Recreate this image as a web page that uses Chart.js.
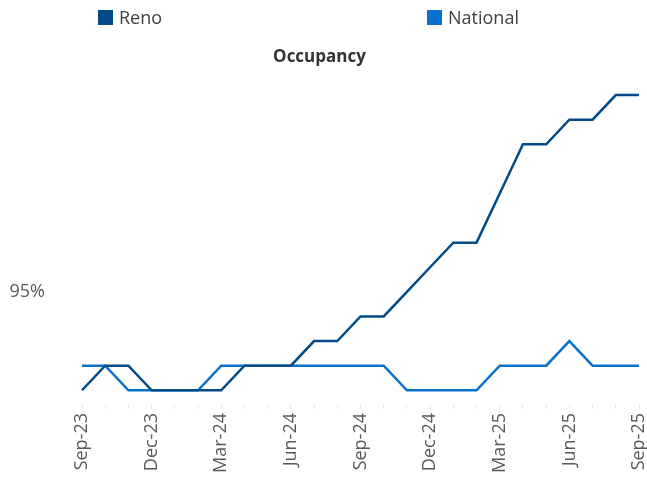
<!DOCTYPE html>
<html>
<head>
<meta charset="utf-8">
<script src="https://cdn.jsdelivr.net/npm/chart.js@4.4.1/dist/chart.umd.min.js"></script>
<style>
  html, body { margin: 0; padding: 0; background: #ffffff; }
  #wrap { position: relative; width: 647px; height: 477px; }
  .legend { position: absolute; top: 5px; font-family: "Open Sans", sans-serif; font-size: 18px; color: #404040; line-height: 24px; }
  .legend span.box { display: inline-block; width: 15px; height: 15px; vertical-align: -1px; margin-right: 6px; }
</style>
</head>
<body>
<div id="wrap">
  <canvas id="occChart" width="647" height="477"></canvas>
  <div class="legend" style="left:98px"><span class="box" style="background:#024b87"></span>Reno</div>
  <div class="legend" style="left:427px"><span class="box" style="background:#0a72cc"></span>National</div>
</div>
<script>
// monthly occupancy, Sep-23 .. Sep-25
const months = ['Sep-23', 'Oct-23', 'Nov-23', 'Dec-23', 'Jan-24', 'Feb-24', 'Mar-24', 'Apr-24', 'May-24',
    'Jun-24', 'Jul-24', 'Aug-24', 'Sep-24', 'Oct-24', 'Nov-24', 'Dec-24', 'Jan-25', 'Feb-25', 'Mar-25',
    'Apr-25', 'May-25', 'Jun-25', 'Jul-25', 'Aug-25', 'Sep-25'];

const renoValues = [94.6, 94.7, 94.7, 94.6, 94.6, 94.6, 94.6, 94.7, 94.7, 94.7, 94.8, 94.8, 94.9, 94.9,
    95.0, 95.1, 95.2, 95.2, 95.4, 95.6, 95.6, 95.7, 95.7, 95.8, 95.8];

const nationalValues = [94.7, 94.7, 94.6, 94.6, 94.6, 94.6, 94.7, 94.7, 94.7, 94.7, 94.7, 94.7, 94.7, 94.7,
    94.6, 94.6, 94.6, 94.6, 94.7, 94.7, 94.7, 94.8, 94.7, 94.7, 94.7];

const yTicks = [95];

const gray = '#595959';
const font = "'Open Sans', sans-serif";

const ctx = document.getElementById('occChart').getContext('2d');
new Chart(ctx, {
    type: 'line',
    data: {
        labels: months,
        datasets: [{
            label: 'Reno',
            data: renoValues,
            borderColor: '#024b87',
            backgroundColor: '#024b87',
            borderWidth: 2.5,
            pointRadius: 0,
            tension: 0
        }, {
            label: 'National',
            data: nationalValues,
            borderColor: '#0a72cc',
            backgroundColor: '#0a72cc',
            borderWidth: 2.5,
            pointRadius: 0,
            tension: 0
        }]
    },
    options: {
        responsive: false,
        animation: false,
        layout: { padding: { left: 0, right: 8, top: 0, bottom: 0 } },
        plugins: {
            legend: { display: false },
            tooltip: { enabled: false },
            title: {
                display: true,
                text: 'Occupancy',
                color: '#333333',
                font: { family: font, size: 17, weight: 'bold' },
                padding: { top: 47, bottom: 7 }
            }
        },
        scales: {
            x: {
                border: { display: false },
                grid: { drawOnChartArea: false, drawTicks: true, tickLength: 4, color: '#e3e3e3' },
                ticks: {
                    autoSkip: false,
                    minRotation: 90,
                    maxRotation: 90,
                    padding: 4,
                    color: gray,
                    font: { family: font, size: 18 },
                    callback: function(value, index) {
                        return index % 3 === 0 ? this.getLabelForValue(value) : '';
                    }
                },
                afterFit: function(scale) {
                    scale.height = 72;
                    scale.paddingLeft = 0;
                    scale.paddingRight = 0;
                }
            },
            y: {
                min: 94.54,
                max: 95.884,
                border: { display: false },
                grid: { display: false },
                afterBuildTicks: function(scale) {
                    scale.ticks = yTicks.map(v => ({ value: v }));
                },
                ticks: {
                    padding: 29,
                    color: gray,
                    font: { family: font, size: 18 },
                    callback: v => v + '%'
                },
                afterFit: function(scale) { scale.width = 82; }
            }
        }
    }
});
</script>
</body>
</html>
